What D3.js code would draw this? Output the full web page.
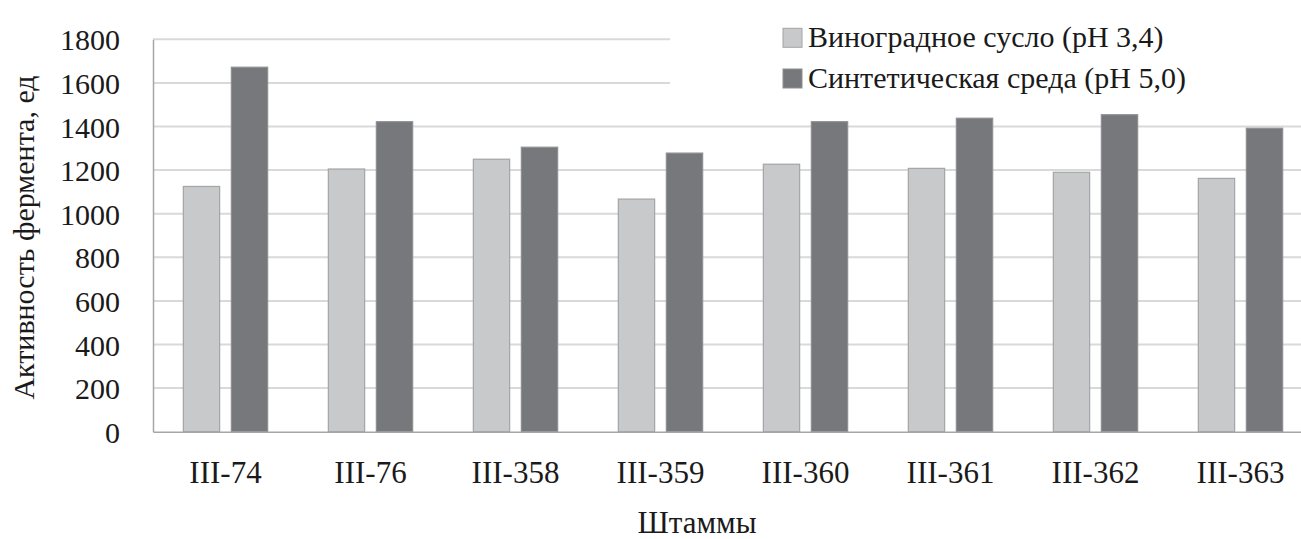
<!DOCTYPE html>
<html>
<head>
<meta charset="utf-8">
<script src="https://cdn.jsdelivr.net/npm/d3@7"></script>
<style>
  html, body { margin: 0; padding: 0; background: #fff; }
  svg { display: block; }
  text { font-family: "Liberation Serif", "DejaVu Serif", serif; fill: #1a1a1a; }
</style>
</head>
<body>
<svg id="chart" width="1301" height="539"></svg>
<script>
const categories = ["III-74", "III-76", "III-358", "III-359", "III-360", "III-361", "III-362", "III-363"];
const seriesNames = ["Виноградное сусло (pH 3,4)", "Синтетическая среда (pH 5,0)"];
const grapeMust = [1125, 1205, 1250, 1067, 1227, 1208, 1190, 1162];
const syntheticMedium = [1672, 1422, 1305, 1278, 1422, 1438, 1454, 1392];
const yTicks = [0, 200, 400, 600, 800, 1000, 1200, 1400, 1600, 1800];
const yTitle = "Активность фермента, ед";
const xTitle = "Штаммы";

const seriesValues = [grapeMust, syntheticMedium];
const fills = ["#c8c9cb", "#77787c"];
const strokes = ["#a3a4a6", "#8e8f92"];

const svg = d3.select("#chart");
const pLeft = 153, pRight = 1313, pTop = 39.3, pBottom = 431.7;
const fs = 30;

const x = d3.scaleBand().domain(categories).range([pLeft, pRight]).paddingInner(0).paddingOuter(0);
const xs = d3.scaleBand().domain([0, 1]).range([0, x.bandwidth()]).paddingInner(0.2438).paddingOuter(0.632);
const y = d3.scaleLinear().domain([0, 1800]).range([pBottom, pTop]);

// gridlines
svg.append("g")
  .selectAll("line")
  .data(yTicks.filter(d => d > 0))
  .join("line")
  .attr("x1", pLeft).attr("x2", pRight)
  .attr("y1", d => y(d)).attr("y2", d => y(d))
  .attr("stroke", "#d9d9d9").attr("stroke-width", 2);

// bars
const rows = categories.map((c, i) => ({ c, vals: seriesValues.map(s => s[i]) }));
const g = svg.append("g").selectAll("g").data(rows).join("g")
  .attr("transform", d => `translate(${x(d.c)},0)`);
g.selectAll("rect")
  .data(d => d.vals.map((v, k) => ({ v, k })))
  .join("rect")
  .attr("x", d => xs(d.k))
  .attr("width", xs.bandwidth())
  .attr("y", d => y(d.v))
  .attr("height", d => y(0) - y(d.v))
  .attr("fill", d => fills[d.k])
  .attr("stroke", d => strokes[d.k])
  .attr("stroke-width", 1.2);

// legend background (covers gridlines)
svg.append("rect").attr("x", 670).attr("y", 0).attr("width", 640).attr("height", 104).attr("fill", "#fff");

// axes
const yAxis = d3.axisLeft(y).tickValues(yTicks).tickSize(0).tickPadding(33).tickFormat(d3.format("d"));
const ya = svg.append("g").attr("transform", `translate(${pLeft},0)`).call(yAxis);
ya.select(".domain").attr("stroke", "#a6a6a6").attr("stroke-width", 1.5);
ya.selectAll("text").attr("font-size", fs).attr("font-family", "Liberation Serif").attr("fill", "#1a1a1a").attr("dy", "0.35em");

const xAxis = d3.axisBottom(x).tickSize(0).tickPadding(29);
const xa = svg.append("g").attr("transform", `translate(0,${pBottom})`).call(xAxis);
xa.select(".domain").attr("stroke", "#a6a6a6").attr("stroke-width", 1.5);
xa.selectAll("text").attr("font-size", fs + 1).attr("font-family", "Liberation Serif").attr("fill", "#1a1a1a");

// titles
svg.append("text")
  .attr("transform", `translate(34,${(pTop + pBottom) / 2 + 2}) rotate(-90)`)
  .attr("text-anchor", "middle")
  .attr("font-size", fs)
  .text(yTitle);
svg.append("text")
  .attr("x", 697).attr("y", 533)
  .attr("text-anchor", "middle")
  .attr("font-size", fs + 1)
  .text(xTitle);

// legend
const legY = [38.3, 79];
const lg = svg.append("g").selectAll("g").data(seriesNames).join("g")
  .attr("transform", (d, i) => `translate(783,${legY[i]})`);
lg.append("rect").attr("x", 0).attr("y", -10).attr("width", 19).attr("height", 19)
  .attr("fill", (d, i) => fills[i]).attr("stroke", (d, i) => strokes[i]).attr("stroke-width", 1);
lg.append("text").attr("x", 25).attr("y", -2).attr("dy", "0.35em")
  .attr("font-size", fs).text(d => d);
</script>
</body>
</html>
